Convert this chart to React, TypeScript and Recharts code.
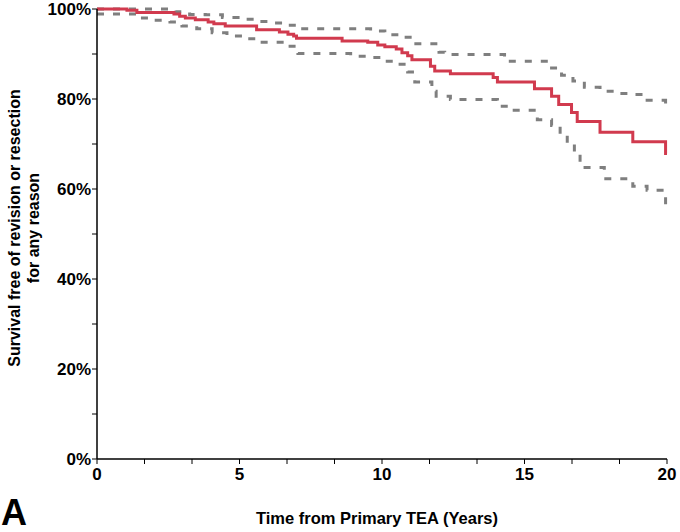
import React from 'react';
import { LineChart, Line, XAxis, YAxis } from 'recharts';

// Kaplan-Meier estimate (years, % survival)
const kmTime = [0, 1.05, 1.4, 2.7, 2.9, 3.1, 3.45, 3.9, 4.1, 4.5, 5.6, 6.4, 6.7, 6.9, 7.0, 8.6, 9.5, 9.85, 10.1, 10.5, 10.7, 10.9, 11.05, 11.7, 11.85, 12.4, 13.9, 14.05, 15.35, 15.95, 16.2, 16.65, 16.85, 17.65, 18.8, 19.95, 20];
const kmSurvival = [100, 99.7, 99.2, 98.9, 98.4, 98.0, 97.6, 97.1, 96.7, 96.2, 95.4, 94.9, 94.4, 94.0, 93.5, 92.9, 92.6, 92.0, 91.6, 91.1, 90.3, 89.6, 88.7, 87.3, 86.2, 85.6, 84.8, 83.8, 82.3, 80.6, 78.8, 77.0, 75.0, 72.6, 70.5, 67.9, 67.9];

// upper 95% CI
const upperTime = [0, 2.75, 3.25, 3.8, 4.4, 4.95, 5.55, 6.15, 6.7, 7.1, 9.6, 10.1, 10.6, 11.1, 12.0, 12.2, 14.3, 15.95, 16.3, 16.7, 17.1, 17.65, 18.2, 18.8, 19.15, 19.95, 20];
const upperSurvival = [100, 99.4, 98.8, 98.7, 98.1, 97.7, 97.2, 96.9, 96.4, 95.6, 95.1, 94.3, 93.7, 92.3, 90.4, 89.9, 88.4, 86.9, 85.3, 84.0, 82.6, 81.7, 81.2, 81.0, 79.7, 77.7, 77.7];

// lower 95% CI
const lowerTime = [0, 1.4, 1.93, 2.56, 2.98, 3.5, 4.04, 4.56, 5.09, 5.6, 6.7, 7.05, 8.9, 9.5, 10.0, 10.5, 10.9, 11.15, 11.75, 11.9, 12.4, 14.05, 14.5, 15.45, 15.95, 16.25, 16.5, 16.75, 16.95, 17.8, 18.8, 19.3, 19.95, 20];
const lowerSurvival = [98.9, 98.0, 97.5, 97.1, 96.2, 95.6, 94.7, 94.0, 93.4, 92.6, 91.7, 90.1, 89.5, 89.2, 88.4, 87.7, 86.0, 83.8, 81.7, 80.6, 79.9, 78.4, 77.5, 75.4, 74.1, 72.1, 70.0, 67.7, 64.8, 62.3, 60.6, 59.7, 55.8, 55.8];

const xTicks = [0, 5 / 3, 10 / 3, 5, 20 / 3, 25 / 3, 10, 35 / 3, 40 / 3, 15, 50 / 3, 55 / 3, 20];
const yTicks = [0, 10, 20, 30, 40, 50, 60, 70, 80, 90, 100];

const toRows = (t: number[], s: number[]) => t.map((time, i) => ({ time, s: s[i] }));

const font = '"Liberation Sans", Arial, sans-serif';
const tickStyle = { fontSize: 17, fontWeight: 700, fill: '#000', fontFamily: font };

const YTitle = () => (
  <g fontFamily={font} fontSize={16} fontWeight={700} fill="#000">
    <text transform="translate(14,228) rotate(-90)" textAnchor="middle" dominantBaseline="central">
      Survival free of revision or resection
    </text>
    <text transform="translate(33,228) rotate(-90)" textAnchor="middle" dominantBaseline="central">
      for any reason
    </text>
  </g>
);

const XTitle = () => (
  <g fontFamily={font} fontWeight={700} fill="#000">
    <text x={377} y={524} textAnchor="middle" fontSize={16.5}>
      Time from Primary TEA (Years)
    </text>
    <text x={1} y={525} fontSize={36}>
      A
    </text>
  </g>
);

const App: React.FC = () => {
  return (
    <div style={{ position: 'absolute', left: 0, top: 0, background: '#fff' }}>
      <LineChart width={680} height={532} margin={{ top: 9, right: 13, left: 37, bottom: 43 }}>
        <XAxis
          type="number"
          dataKey="time"
          domain={[0, 20]}
          ticks={xTicks}
          interval={0}
          tickFormatter={(v: number) => (Math.abs(v / 5 - Math.round(v / 5)) < 1e-6 ? String(Math.round(v)) : '')}
          axisLine={{ stroke: '#000', strokeWidth: 1.5 }}
          tickLine={{ stroke: '#000' }}
          tickSize={5}
          tickMargin={4}
          tick={tickStyle}
          height={30}
          label={{ content: () => <XTitle /> }}
          allowDuplicatedCategory={false}
        />
        <YAxis
          type="number"
          domain={[0, 100]}
          ticks={yTicks}
          interval={0}
          tickFormatter={(v: number) => (v % 20 === 0 ? `${v}%` : '')}
          axisLine={{ stroke: '#000', strokeWidth: 1.5 }}
          tickLine={{ stroke: '#000' }}
          tickSize={5}
          tickMargin={1}
          tick={tickStyle}
          width={60}
          label={{ content: () => <YTitle /> }}
        />
        <Line
          data={toRows(upperTime, upperSurvival)}
          dataKey="s"
          type="stepAfter"
          stroke="#7f7f7f"
          strokeWidth={3}
          strokeDasharray="7 9"
          dot={false}
          isAnimationActive={false}
        />
        <Line
          data={toRows(lowerTime, lowerSurvival)}
          dataKey="s"
          type="stepAfter"
          stroke="#7f7f7f"
          strokeWidth={3}
          strokeDasharray="7 9"
          dot={false}
          isAnimationActive={false}
        />
        <Line
          data={toRows(kmTime, kmSurvival)}
          dataKey="s"
          type="stepAfter"
          stroke="#d13a4e"
          strokeWidth={3}
          dot={false}
          isAnimationActive={false}
        />
      </LineChart>
    </div>
  );
};

export default App;
